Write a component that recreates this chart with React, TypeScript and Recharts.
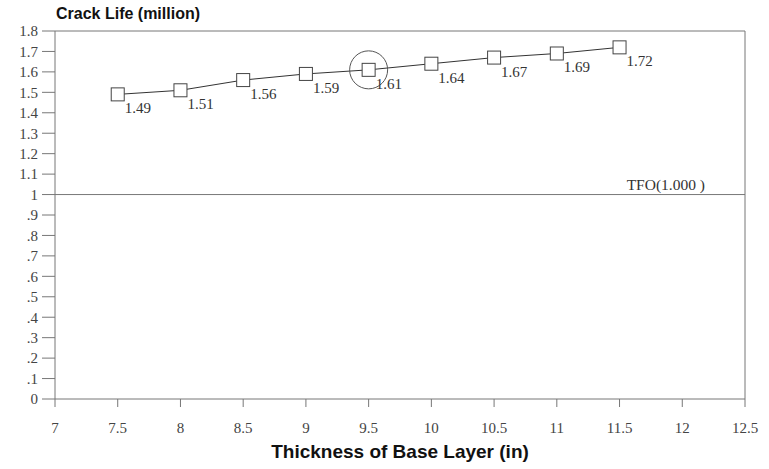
import React from "react";
import {
  LineChart,
  Line,
  XAxis,
  YAxis,
  ReferenceLine,
  ReferenceDot,
  LabelList,
} from "recharts";

const thickness = [7.5, 8, 8.5, 9, 9.5, 10, 10.5, 11, 11.5];
const crackLife = [1.49, 1.51, 1.56, 1.59, 1.61, 1.64, 1.67, 1.69, 1.72];
const xTicks = [7, 7.5, 8, 8.5, 9, 9.5, 10, 10.5, 11, 11.5, 12, 12.5];
const yTicks = [0, 0.1, 0.2, 0.3, 0.4, 0.5, 0.6, 0.7, 0.8, 0.9, 1, 1.1, 1.2, 1.3, 1.4, 1.5, 1.6, 1.7, 1.8];
const tfoValue = 1;
const tfoLabel = "TFO(1.000 )";
const highlightX = 9.5;
const highlightY = 1.61;

const chartData = thickness.map((t, i) => ({ t, life: crackLife[i] }));

const serif = "'Liberation Serif', 'DejaVu Serif', serif";
const sans = "'Liberation Sans', Arial, sans-serif";

const fmtY = (v: number) => {
  if (v === 0) return "0";
  if (v === 1) return "1";
  if (v < 1) return "." + Math.round(v * 10);
  return v.toFixed(1);
};

const SquareDot = (props: any) => {
  const { cx, cy } = props;
  if (cx == null || cy == null) return null;
  return (
    <rect x={cx - 6.5} y={cy - 6.5} width={13} height={13} fill="#fff" stroke="#444" strokeWidth={1} />
  );
};

const PointLabel = (props: any) => {
  const { x, y, value } = props;
  return (
    <text x={x + 7} y={y + 19} fontFamily={serif} fontSize={15} fill="#333">
      {value.toFixed(2)}
    </text>
  );
};

const TfoLabel = (props: any) => {
  const { viewBox } = props;
  return (
    <text x={viewBox.x + viewBox.width - 40} y={viewBox.y - 5} textAnchor="end" fontFamily={serif} fontSize={15.5} fill="#333">
      {tfoLabel}
    </text>
  );
};

export default function App() {
  return (
    <div style={{ position: "absolute", left: 0, top: 0, width: 769, height: 469, background: "#fff" }}>
      <div style={{ position: "absolute", left: 56, top: 5, fontFamily: sans, fontWeight: "bold", fontSize: 16, color: "#111" }}>
        Crack Life (million)
      </div>
      <div style={{ position: "absolute", left: 55, width: 690, top: 441, textAlign: "center", fontFamily: sans, fontWeight: "bold", fontSize: 19, color: "#111" }}>
        Thickness of Base Layer (in)
      </div>
      <LineChart width={769} height={469} data={chartData} margin={{ top: 31, right: 24, bottom: 0, left: 0 }}>
        <XAxis
          dataKey="t"
          type="number"
          domain={[7, 12.5]}
          ticks={xTicks}
          interval={0}
          height={70}
          tickSize={8}
          tickMargin={15}
          stroke="#777"
          tick={{ fontFamily: serif, fontSize: 15, fill: "#444" }}
        />
        <YAxis
          type="number"
          domain={[0, 1.8]}
          ticks={yTicks}
          interval={0}
          width={55}
          tickSize={13}
          tickMargin={4}
          tickFormatter={fmtY}
          stroke="#777"
          tick={{ fontFamily: serif, fontSize: 15, fill: "#444" }}
        />
        <ReferenceLine y={1.8} stroke="#777" />
        <ReferenceLine x={12.5} stroke="#777" />
        <ReferenceLine y={tfoValue} stroke="#777" label={<TfoLabel />} />
        <Line
          dataKey="life"
          stroke="#333"
          strokeWidth={1}
          dot={<SquareDot />}
          activeDot={false}
          isAnimationActive={false}
        >
          <LabelList dataKey="life" content={<PointLabel />} />
        </Line>
        <ReferenceDot x={highlightX} y={highlightY} r={19} fill="none" stroke="#555" strokeWidth={1} />
      </LineChart>
    </div>
  );
}
